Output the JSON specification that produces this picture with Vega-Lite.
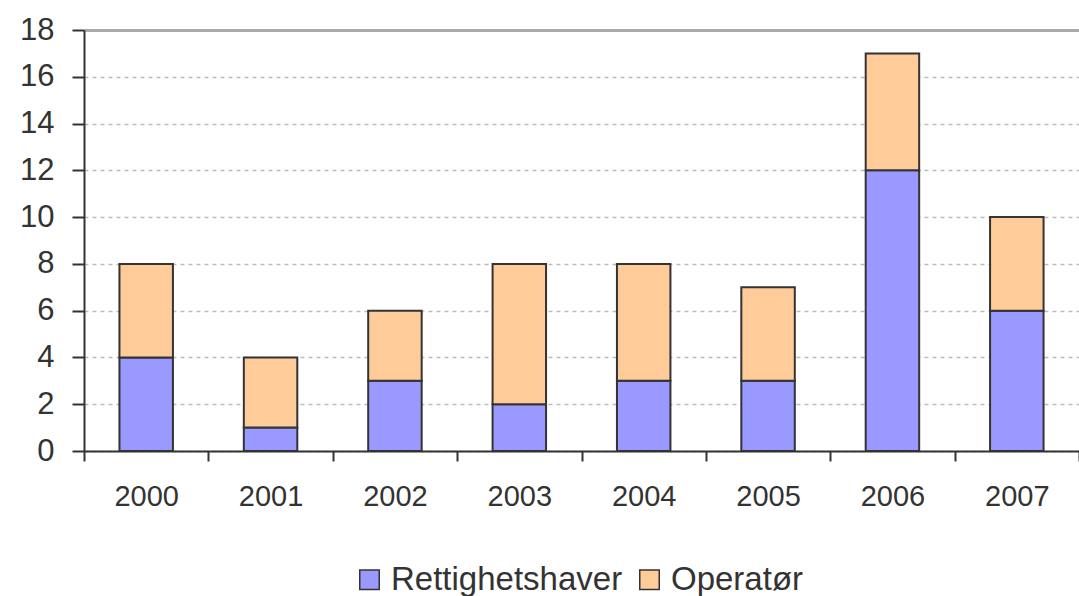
{
  "$schema": "https://vega.github.io/schema/vega-lite/v6.json",
  "width": 995,
  "height": 421,
  "autosize": {"type": "none"},
  "padding": {"left": 84, "top": 30, "right": 0, "bottom": 145},
  "background": "white",
  "config": {"view": {"stroke": null}, "font": "Liberation Sans"},
  "data": {
    "values": [
      {"year": "2000", "series": "Rettighetshaver", "ord": 0, "value": 4},
      {"year": "2000", "series": "Operatør", "ord": 1, "value": 4},
      {"year": "2001", "series": "Rettighetshaver", "ord": 0, "value": 1},
      {"year": "2001", "series": "Operatør", "ord": 1, "value": 3},
      {"year": "2002", "series": "Rettighetshaver", "ord": 0, "value": 3},
      {"year": "2002", "series": "Operatør", "ord": 1, "value": 3},
      {"year": "2003", "series": "Rettighetshaver", "ord": 0, "value": 2},
      {"year": "2003", "series": "Operatør", "ord": 1, "value": 6},
      {"year": "2004", "series": "Rettighetshaver", "ord": 0, "value": 3},
      {"year": "2004", "series": "Operatør", "ord": 1, "value": 5},
      {"year": "2005", "series": "Rettighetshaver", "ord": 0, "value": 3},
      {"year": "2005", "series": "Operatør", "ord": 1, "value": 4},
      {"year": "2006", "series": "Rettighetshaver", "ord": 0, "value": 12},
      {"year": "2006", "series": "Operatør", "ord": 1, "value": 5},
      {"year": "2007", "series": "Rettighetshaver", "ord": 0, "value": 6},
      {"year": "2007", "series": "Operatør", "ord": 1, "value": 4}
    ]
  },
  "mark": {"type": "bar", "stroke": "#333333", "strokeWidth": 2, "width": {"band": 0.43}},
  "encoding": {
    "x": {
      "field": "year",
      "type": "ordinal",
      "scale": {"paddingInner": 0, "paddingOuter": 0},
      "axis": {
        "title": null,
        "labelAngle": 0,
        "labelFontSize": 29,
        "labelColor": "#333333",
        "labelPadding": 21,
        "tickBand": "extent",
        "tickSize": 10,
        "tickColor": "#333333",
        "tickWidth": 2,
        "domainColor": "#333333",
        "domainWidth": 2,
        "grid": false
      }
    },
    "y": {
      "field": "value",
      "type": "quantitative",
      "stack": "zero",
      "scale": {"domain": [0, 18], "nice": false},
      "axis": {
        "title": null,
        "values": [0, 2, 4, 6, 8, 10, 12, 14, 16, 18],
        "labelFontSize": 31,
        "labelColor": "#333333",
        "labelPadding": 18,
        "tickSize": 12,
        "tickColor": "#333333",
        "tickWidth": 2,
        "domainColor": "#333333",
        "domainWidth": 2,
        "grid": true,
        "gridDash": {"condition": {"test": "datum.value == 18", "value": []}, "value": [4, 4]},
        "gridColor": {"condition": {"test": "datum.value == 18", "value": "#aaaaaa"}, "value": "#bbbbbb"},
        "gridWidth": {"condition": {"test": "datum.value == 18", "value": 3}, "value": 1.5}
      }
    },
    "color": {
      "field": "series",
      "type": "nominal",
      "scale": {"domain": ["Rettighetshaver", "Operatør"], "range": ["#9999ff", "#ffcc99"]},
      "legend": {
        "orient": "none",
        "legendX": 269,
        "legendY": 533,
        "direction": "horizontal",
        "title": null,
        "symbolType": "square",
        "symbolSize": 380,
        "symbolStrokeColor": "#333333",
        "symbolStrokeWidth": 1.5,
        "labelFontSize": 33,
        "labelLimit": 500,
        "labelColor": "#333333",
        "labelOffset": 5,
        "columnPadding": 10
      }
    },
    "order": {"field": "ord", "type": "quantitative"}
  }
}
